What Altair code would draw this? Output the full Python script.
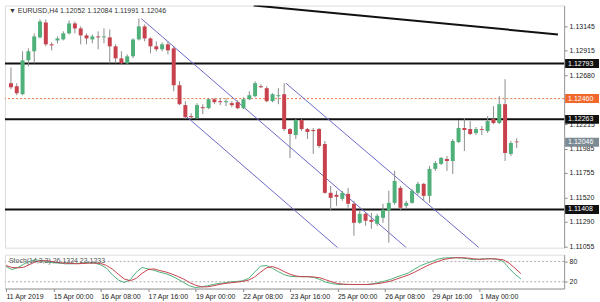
import altair as alt
import pandas as pd

# ---------------- data ----------------
opens = [
    1.12606, 1.12577, 1.12502, 1.12823, 1.12909, 1.13041, 1.13182, 1.12975, 1.13012, 1.13022,
    1.13079, 1.13173, 1.13126, 1.13060, 1.13022, 1.13050, 1.13041, 1.13041, 1.12956, 1.12842,
    1.12795, 1.12861, 1.13022, 1.13145, 1.13031, 1.12956, 1.12928, 1.12975, 1.12937, 1.12587,
    1.12398, 1.12294, 1.12275, 1.12379, 1.12369, 1.12454, 1.12436, 1.12426, 1.12417, 1.12426,
    1.12369, 1.12454, 1.12483, 1.12577, 1.12559, 1.12436, 1.12483, 1.12502, 1.12171, 1.12114,
    1.12256, 1.12171, 1.12162, 1.12171, 1.12029, 1.11566, 1.11547, 1.11509, 1.11556, 1.11462,
    1.11282, 1.11367, 1.11310, 1.11272, 1.11329, 1.11395, 1.11471, 1.11613, 1.11443, 1.11471,
    1.11566, 1.11651, 1.11537, 1.11793, 1.11840, 1.11887, 1.11868, 1.12048, 1.12181, 1.12171,
    1.12133, 1.12171, 1.12152, 1.12266, 1.12228, 1.12407, 1.11935, 1.12052]
closes = [
    1.12568, 1.12511, 1.12823, 1.12909, 1.13050, 1.13192, 1.12975, 1.12965, 1.13031, 1.13079,
    1.13173, 1.13126, 1.13060, 1.13031, 1.13050, 1.13041, 1.13050, 1.12956, 1.12842, 1.12795,
    1.12861, 1.13022, 1.13145, 1.13031, 1.12956, 1.12928, 1.12975, 1.12918, 1.12587, 1.12407,
    1.12284, 1.12284, 1.12398, 1.12369, 1.12454, 1.12426, 1.12426, 1.12436, 1.12398, 1.12369,
    1.12454, 1.12492, 1.12606, 1.12568, 1.12436, 1.12502, 1.12492, 1.12171, 1.12124, 1.12256,
    1.12171, 1.12143, 1.12152, 1.12010, 1.11566, 1.11518, 1.11528, 1.11566, 1.11462, 1.11282,
    1.11367, 1.11301, 1.11291, 1.11348, 1.11405, 1.11471, 1.11679, 1.11424, 1.11471, 1.11585,
    1.11651, 1.11537, 1.11793, 1.11849, 1.11897, 1.11868, 1.12058, 1.12181, 1.12162, 1.12124,
    1.12171, 1.12162, 1.12247, 1.12228, 1.12407, 1.11944, 1.12039, 1.12046]
highs = [
    1.12757, 1.12606, 1.12909, 1.12937, 1.13079, 1.13211, 1.13211, 1.12994, 1.13050, 1.13098,
    1.13201, 1.13192, 1.13145, 1.13079, 1.13069, 1.13098, 1.13126, 1.13116, 1.12975, 1.12909,
    1.12880, 1.13031, 1.13220, 1.13164, 1.13041, 1.13003, 1.12994, 1.13003, 1.12956, 1.12625,
    1.12436, 1.12322, 1.12417, 1.12407, 1.12464, 1.12464, 1.12464, 1.12464, 1.12436, 1.12445,
    1.12473, 1.12530, 1.12625, 1.12596, 1.12577, 1.12511, 1.12559, 1.12606, 1.12181, 1.12266,
    1.12266, 1.12181, 1.12181, 1.12181, 1.12058, 1.11632, 1.11585, 1.11585, 1.11613, 1.11490,
    1.11395, 1.11376, 1.11376, 1.11367, 1.11462, 1.11585, 1.11774, 1.11632, 1.11490, 1.11604,
    1.11670, 1.11660, 1.11821, 1.11868, 1.11906, 1.11916, 1.12077, 1.12256, 1.12275, 1.12247,
    1.12190, 1.12199, 1.12294, 1.12388, 1.12483, 1.12644, 1.12058, 1.12084]
lows = [
    1.12549, 1.12492, 1.12492, 1.12767, 1.12795, 1.13031, 1.12956, 1.12918, 1.12984, 1.13012,
    1.13069, 1.13079, 1.12975, 1.12975, 1.12984, 1.12928, 1.12984, 1.12795, 1.12795, 1.12786,
    1.12786, 1.12842, 1.13012, 1.13003, 1.12890, 1.12909, 1.12909, 1.12880, 1.12530, 1.12398,
    1.12266, 1.12266, 1.12266, 1.12313, 1.12360, 1.12407, 1.12398, 1.12388, 1.12379, 1.12360,
    1.12360, 1.12445, 1.12473, 1.12559, 1.12426, 1.12426, 1.12407, 1.12152, 1.11897, 1.12077,
    1.12152, 1.12077, 1.11935, 1.11992, 1.11556, 1.11395, 1.11443, 1.11490, 1.11424, 1.11159,
    1.11272, 1.11253, 1.11225, 1.11253, 1.11282, 1.11093, 1.11452, 1.11395, 1.11414, 1.11462,
    1.11547, 1.11490, 1.11471, 1.11774, 1.11830, 1.11774, 1.11745, 1.12039, 1.11963, 1.12114,
    1.12114, 1.12114, 1.12133, 1.12218, 1.12218, 1.11868, 1.11916, 1.11991]

stoch_main = [
    65, 56, 62, 72, 80, 85, 82, 78, 76, 75,
    73, 73, 74, 75, 76, 75, 70, 60, 40, 25,
    18, 26, 48, 62, 58, 54, 48, 44, 37, 28,
    18, 8, 3, 5, 8, 12, 15, 17, 20, 21,
    23, 30, 48, 66, 68, 60, 50, 41, 36, 35,
    35, 35, 33, 27, 19, 15, 12, 12, 12, 12,
    12, 12, 14, 18, 22, 27, 34, 40, 46, 57,
    67, 74, 80, 87, 90, 91, 91, 90, 88, 85,
    87, 88, 88, 86, 80, 60, 42, 28]
stoch_signal = [
    68, 62, 61, 63, 71, 79, 82, 82, 79, 76,
    75, 74, 73, 74, 75, 75, 74, 68, 57, 42,
    28, 23, 30, 45, 56, 58, 53, 49, 43, 36,
    28, 18, 10, 5, 5, 8, 12, 15, 17, 19,
    21, 25, 34, 48, 61, 65, 59, 50, 42, 37,
    35, 35, 34, 32, 26, 20, 15, 13, 12, 12,
    12, 12, 13, 15, 18, 22, 28, 34, 40, 48,
    57, 66, 74, 80, 86, 89, 91, 91, 90, 88,
    86, 87, 88, 87, 85, 75, 60, 44]

time_tick_idx = [0, 8, 16, 24, 32, 40, 48, 56, 64, 72, 80]
time_tick_labels = ["11 Apr 2019", "15 Apr 00:00", "16 Apr 08:00", "17 Apr 16:00",
                    "19 Apr 00:00", "22 Apr 08:00", "23 Apr 16:00", "25 Apr 00:00",
                    "26 Apr 08:00", "29 Apr 16:00", "1 May 00:00"]

price_ticks = [1.13145, 1.12915, 1.12680, 1.12215, 1.11985, 1.11755, 1.11520, 1.11290, 1.11055]
sr_levels = [1.12793, 1.12263, 1.11408]
bid_level = 1.12460
last_price = 1.12046

box_prices = [1.12793, 1.12460, 1.12263, 1.12046, 1.11408]
box_fills = ["#111111", "#f0682c", "#111111", "#7b8a93", "#111111"]

# trend line and channel lines (bar index, price)
line_ids = ["trend", "trend", "c1u", "c1u", "c1l", "c1l", "c2u", "c2u"]
line_idx = [41.75, 94.1, 22.4, 68.0, 30.1, 56.2, 47.3, 80.5]
line_price = [1.13344, 1.13069, 1.13220, 1.11046, 1.12294, 1.11046, 1.12606, 1.11046]

title_text = "\u25BC EURUSD,H4  1.12052 1.12084 1.11991 1.12046"
stoch_title = "Stoch(14,3,3) 26.1324 23.1233"

# ---------------- frames ----------------
n = len(opens)
df = pd.DataFrame({"i": list(range(n)), "open": opens, "close": closes,
                   "high": highs, "low": lows})
df["dir"] = ["up" if c >= o else "down" for o, c in zip(opens, closes)]

lines_df = pd.DataFrame({"id": line_ids, "i": line_idx, "price": line_price})
sr_df = pd.DataFrame({"price": sr_levels})
bid_df = pd.DataFrame({"price": [bid_level]})
box_df = pd.DataFrame({"price": box_prices, "fill": box_fills,
                       "label": [f"{p:.5f}" for p in box_prices]})
sto_df = pd.DataFrame({
    "i": list(range(n)) * 2,
    "v": stoch_main + stoch_signal,
    "s": ["main"] * n + ["signal"] * n,
})
lvl_df = pd.DataFrame({"v": [80, 20]})

FONT = "Liberation Sans"
W, H_MAIN, H_STO = 561, 243, 34

xs = alt.Scale(domain=[-0.17, 94.3], nice=False, zero=False)
ys = alt.Scale(domain=[1.110455, 1.133436], nice=False, zero=False)

y_axis = alt.Axis(orient="right", values=price_ticks, format=".5f", title=None,
                  labelFont=FONT, labelFontSize=7, labelColor="#222",
                  tickColor="#888", tickSize=3, domainColor="#9a9a9a",
                  labelPadding=2, grid=False, labelOverlap=False, labelBound=False)

X = alt.X("i:Q", scale=xs, axis=None)

wicks = alt.Chart(df).mark_rule(color="#8c8c8c", strokeWidth=1).encode(
    x=X, y=alt.Y("low:Q", scale=ys, axis=y_axis), y2="high:Q")
bodies = alt.Chart(df).mark_bar(size=4).encode(
    x=X, y=alt.Y("open:Q", scale=ys, axis=y_axis), y2="close:Q",
    color=alt.Color("dir:N", scale=alt.Scale(domain=["up", "down"],
                                             range=["#4fb07a", "#c8424e"]), legend=None))
sr = alt.Chart(sr_df).mark_rule(color="#111111", strokeWidth=2).encode(
    y=alt.Y("price:Q", scale=ys, axis=y_axis))
bid = alt.Chart(bid_df).mark_rule(color="#e8743b", strokeWidth=1, strokeDash=[2, 2]).encode(
    y=alt.Y("price:Q", scale=ys, axis=y_axis))
trend = alt.Chart(lines_df).transform_filter(alt.datum.id == "trend").mark_line(
    color="#111111", strokeWidth=2, clip=True).encode(
    x=X, y=alt.Y("price:Q", scale=ys, axis=y_axis), detail="id:N")
chan = alt.Chart(lines_df).transform_filter(alt.datum.id != "trend").mark_line(
    color="#6a6acb", strokeWidth=1, clip=True).encode(
    x=X, y=alt.Y("price:Q", scale=ys, axis=y_axis), detail="id:N")
boxes = alt.Chart(box_df).mark_rect(yOffset=-4.5, y2Offset=4.5).encode(
    x=alt.value(562), x2=alt.value(596),
    y=alt.Y("price:Q", scale=ys, axis=y_axis), y2="price:Q",
    color=alt.Color("fill:N", scale=None))
box_text = alt.Chart(box_df).mark_text(align="left", baseline="middle", font=FONT,
                                       fontSize=7, color="white").encode(
    x=alt.value(565), y=alt.Y("price:Q", scale=ys, axis=y_axis), text="label:N")
title = alt.Chart(pd.DataFrame({"t": [title_text]})).mark_text(
    align="left", baseline="middle", font=FONT, fontSize=7, color="#333").encode(
    x=alt.value(4), y=alt.value(6), text="t:N")

main = alt.layer(sr, bid, trend, chan, wicks, bodies, boxes, box_text, title).properties(
    width=W, height=H_MAIN)

labels_js = "[" + ",".join(f"'{s}'" for s in time_tick_labels) + "]"
x_axis = alt.Axis(values=time_tick_idx, labelExpr=f"{labels_js}[round(datum.value/8)]",
                  title=None, labelFont=FONT, labelFontSize=7, labelColor="#222",
                  labelAlign="left", labelBaseline="top", labelPadding=1,
                  labelFlush=False, labelOverlap=False, tickSize=3, tickColor="#888",
                  domainColor="#9a9a9a", grid=False)
sto_y_axis = alt.Axis(orient="right", values=[20, 80], title=None, labelFont=FONT,
                      labelFontSize=7, labelColor="#222", tickSize=3, tickColor="#888",
                      domainColor="#9a9a9a", labelPadding=2, grid=False)
sys_ = alt.Scale(domain=[0, 100], nice=False)

sto_lines = alt.Chart(sto_df).mark_line(strokeWidth=1).encode(
    x=alt.X("i:Q", scale=xs, axis=x_axis),
    y=alt.Y("v:Q", scale=sys_, axis=sto_y_axis),
    color=alt.Color("s:N", scale=alt.Scale(domain=["main", "signal"],
                                           range=["#7ecfc9", "#d05050"]), legend=None))
sto_lvls = alt.Chart(lvl_df).mark_rule(color="#aaaaaa", strokeWidth=1, strokeDash=[2, 2]).encode(
    y=alt.Y("v:Q", scale=sys_, axis=sto_y_axis))
sto_title = alt.Chart(pd.DataFrame({"t": [stoch_title]})).mark_text(
    align="left", baseline="middle", font=FONT, fontSize=7, color="#555").encode(
    x=alt.value(4), y=alt.value(6), text="t:N")

stoch = alt.layer(sto_lvls, sto_lines, sto_title).properties(width=W, height=H_STO)

chart = alt.vconcat(main, stoch, spacing=3).properties(
    padding={"left": 3, "top": 4, "right": 0, "bottom": 0},
    background="white",
).configure_view(stroke="#9a9a9a", strokeWidth=1).configure(font=FONT)

chart.save("out.html", embed_options={"renderer": "svg", "actions": False})
